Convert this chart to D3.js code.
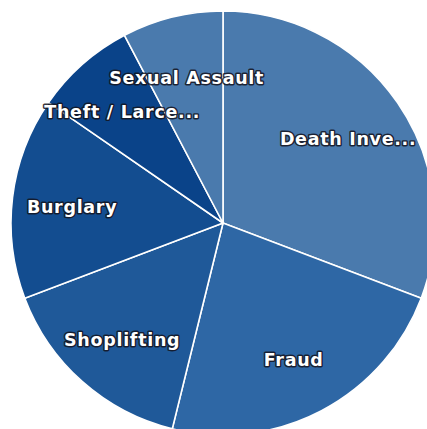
<!DOCTYPE html>
<html>
<head>
<meta charset="utf-8">
<script src="https://cdn.jsdelivr.net/npm/d3@7"></script>
<style>
  html, body { margin: 0; padding: 0; background: #fff; }
  .lbl { font-family: "DejaVu Sans", Verdana, sans-serif; font-weight: bold; font-size: 17.5px; letter-spacing: 0.7px;
         fill: #fff; stroke: rgba(20,20,30,0.85); stroke-width: 3px; paint-order: stroke; stroke-linejoin: round; }
</style>
</head>
<body>
<div id="chart"></div>
<script>
// slices, clockwise from 12 o'clock
const categories = ["Death Inve...", "Fraud", "Shoplifting", "Burglary", "Theft / Larce...", "Sexual Assault"];
const counts = [16, 12, 8, 8, 4, 4];
const colors = ["#4a7aad", "#2e67a5", "#1f5999", "#134d90", "#0a4389", "#4a7aad"];

const width = 427, height = 429;
const cx = 223, cy = 223, radius = 212;

const svg = d3.select("#chart").append("svg")
  .attr("width", width)
  .attr("height", height)
  .append("g")
  .attr("transform", "translate(" + cx + "," + cy + ")");

const data = categories.map((c, i) => ({ cat: c, value: counts[i], color: colors[i] }));

const pie = d3.pie().value(d => d.value).sort(null);
const arc = d3.arc().innerRadius(0).outerRadius(radius);
const labelArc = d3.arc().innerRadius(152).outerRadius(152);

const arcs = pie(data);

svg.selectAll("path.slice")
  .data(arcs)
  .enter()
  .append("path")
  .attr("class", "slice")
  .attr("d", arc)
  .attr("fill", d => d.data.color)
  .attr("stroke", "#fff")
  .attr("stroke-width", 1.6);

svg.selectAll("text.lbl")
  .data(arcs)
  .enter()
  .append("text")
  .attr("class", "lbl")
  .attr("transform", d => "translate(" + labelArc.centroid(d) + ")")
  .attr("text-anchor", "middle")
  .attr("dy", "0.5em")
  .text(d => d.data.cat);
</script>
</body>
</html>
